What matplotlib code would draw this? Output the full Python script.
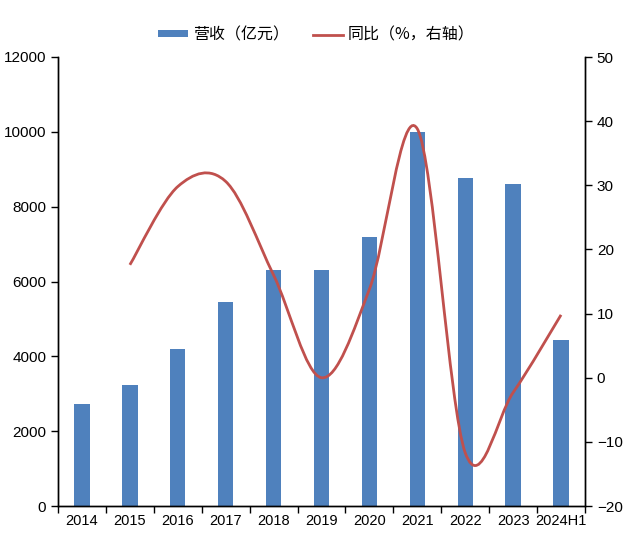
import numpy as np
import matplotlib
matplotlib.use("Agg")
import matplotlib.pyplot as plt
from matplotlib.path import Path
from matplotlib.patches import PathPatch
from matplotlib.lines import Line2D
from matplotlib.patches import Patch

plt.rcParams['font.family'] = ['Liberation Sans', 'Noto Sans CJK SC', 'DejaVu Sans']

years = ['2014', '2015', '2016', '2017', '2018', '2019', '2020', '2021', '2022', '2023', '2024H1']
revenue = [2725, 3230, 4190, 5440, 6300, 6300, 7190, 9990, 8760, 8600, 4430]
yoy_years = years[1:]
yoy = [17.6, 29.8, 30.6, 16.0, 0.0, 13.8, 38.8, -11.7, -2.3, 9.8]

bar_color = '#4F81BD'
line_color = '#C0504D'


def smooth_path(xs, ys):
    # excel-style smoothed line: catmull-rom segments as cubic beziers
    pts = np.column_stack([xs, ys]).astype(float)
    ext = np.vstack([pts[0], pts, pts[-1]])
    verts = [tuple(pts[0])]
    codes = [Path.MOVETO]
    for i in range(1, len(ext) - 2):
        p0, p1, p2, p3 = ext[i - 1], ext[i], ext[i + 1], ext[i + 2]
        c1 = p1 + (p2 - p0) / 6.0
        c2 = p2 - (p3 - p1) / 6.0
        verts += [tuple(c1), tuple(c2), tuple(p2)]
        codes += [Path.CURVE4] * 3
    return Path(verts, codes)


fig = plt.figure(figsize=(6.25, 5.33), dpi=100)
ax = fig.add_axes([58 / 625, 27 / 533, 527 / 625, 449 / 533])
ax2 = ax.twinx()

x = np.arange(len(years))
ax.bar(x, revenue, width=0.32, color=bar_color, zorder=2)
ax.set_xlim(-0.5, len(years) - 0.5)
ax.set_ylim(0, 12000)
ax.set_yticks(np.arange(0, 12001, 2000))

ax.set_xticks(x)
ax.set_xticklabels(years, fontsize=10.5)
ax.set_xticks(np.arange(-0.5, len(years), 1.0), minor=True)
ax.tick_params(axis='x', which='major', length=0, pad=6)
ax.tick_params(axis='x', which='minor', length=5, direction='out', width=1)
ax.tick_params(axis='y', length=5, direction='out', labelsize=11, width=1)

xl = np.arange(1, len(years))
patch = PathPatch(smooth_path(xl, yoy), facecolor='none', edgecolor=line_color, lw=2, zorder=3)
ax2.add_patch(patch)
ax2.set_ylim(-20, 50)
ax2.set_yticks(np.arange(-20, 51, 10))
ax2.set_yticklabels([str(v).replace('-', '\u2212') for v in range(-20, 51, 10)])
ax2.tick_params(axis='y', length=5, direction='out', labelsize=11, width=1)

for a in (ax, ax2):
    a.spines['top'].set_visible(False)
    for s in ('left', 'right', 'bottom'):
        a.spines[s].set_linewidth(1)
        a.spines[s].set_color('black')

handles = [Patch(facecolor=bar_color, label='营收（亿元）'),
           Line2D([0], [0], color=line_color, lw=2, label='同比（%，右轴）')]
leg = fig.legend(handles=handles, loc='center', bbox_to_anchor=(0.506, 1 - 35 / 533),
                 ncol=2, frameon=False, fontsize=11.5, handlelength=1.9, handleheight=0.32,
                 columnspacing=1.5, handletextpad=0.3)
for t in leg.get_texts():
    t.set_family(['Noto Sans CJK SC', 'DejaVu Sans'])

fig.savefig('out.png', dpi=100)
